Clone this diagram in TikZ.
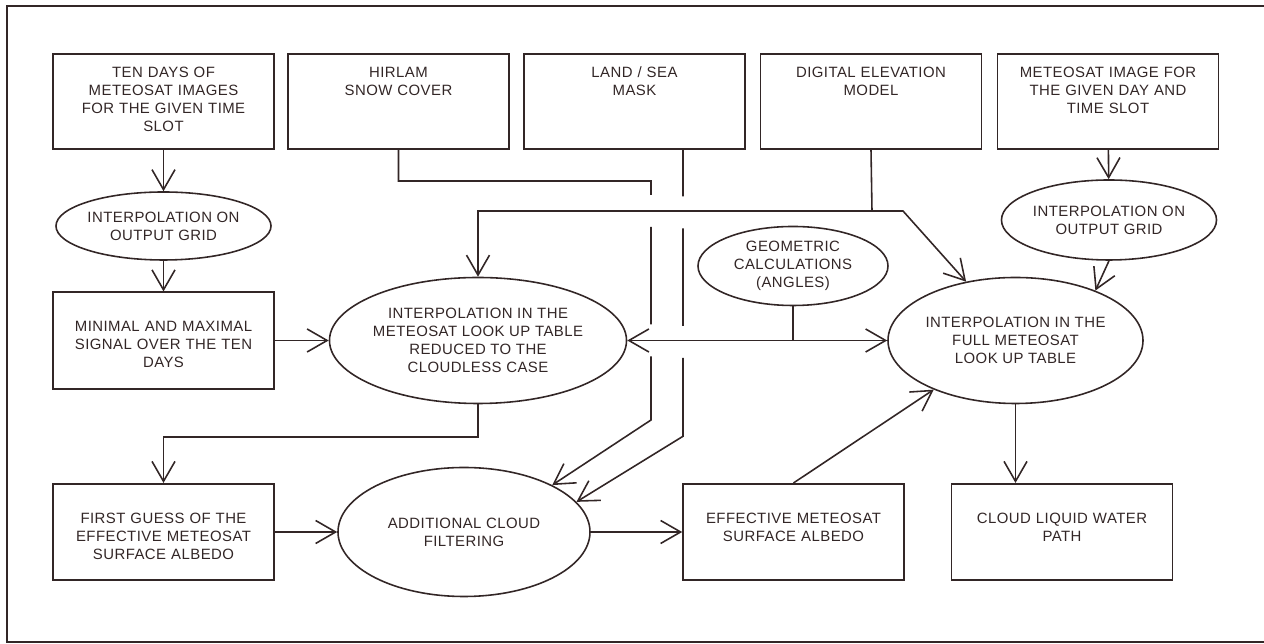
\documentclass[tikz,border=0pt]{standalone}
\usepackage{fontspec}
\setmainfont{Liberation Sans}[LetterSpace=3.0]
\usetikzlibrary{shapes.geometric, arrows.meta}
\definecolor{inkbrown}{RGB}{50, 38, 38}

\begin{document}
\begin{tikzpicture}[
  inbox/.style={draw=inkbrown, line width=0.9pt, minimum width=4.42cm, text width=4.2cm, align=center, inner xsep=0.1cm, inner ysep=0.255cm, text height=0.22cm, text depth=1.17cm, text=inkbrown, font=\fontsize{8.5}{10.25}\selectfont},
  outbox/.style={inbox, inner ysep=0.57cm, text depth=0.57cm},
  proc/.style={draw=inkbrown, line width=0.9pt, ellipse, align=center, inner sep=0pt, text=inkbrown, font=\fontsize{8.5}{10.25}\selectfont},
  wire/.style={draw=inkbrown, line width=0.9pt},
  link/.style={wire, -{Straight Barb[length=4mm, width=4.6mm]}}
]
  \useasboundingbox (0,0) rectangle (25.28,12.88);
  \draw[wire] (25.28,12.76) -| (0.14,0.04) -- (25.28,0.04);

  \node[inbox] (ten) at (3.27, 10.85) {TEN DAYS OF\\METEOSAT IMAGES\\FOR THE GIVEN TIME\\SLOT};
  \node[inbox] (snow) at (7.97, 10.85) {HIRLAM\\SNOW COVER};
  \node[inbox] (land) at (12.69, 10.85) {LAND / SEA\\MASK};
  \node[inbox] (dem) at (17.42, 10.85) {DIGITAL ELEVATION\\MODEL};
  \node[inbox] (today) at (22.16, 10.85) {METEOSAT IMAGE FOR\\THE GIVEN DAY AND\\TIME SLOT};

  \node[proc, minimum width=3.8cm, minimum height=1.36cm] (gridl) at (3.27, 8.36) {INTERPOLATION ON\\OUTPUT GRID};
  \node[proc, minimum width=3.84cm, minimum height=1.6cm] (gridr) at (22.18, 8.48) {INTERPOLATION ON\\OUTPUT GRID};
  \node[proc, minimum width=3.8cm, minimum height=1.58cm] (geom) at (15.86, 7.56) {GEOMETRIC\\CALCULATIONS\\(ANGLES)};

  \node[outbox] (minmax) at (3.27, 6.07) {MINIMAL AND MAXIMAL\\SIGNAL OVER THE TEN\\DAYS};
  \node[proc, minimum width=5.04cm, minimum height=2.52cm] (clear) at (9.56, 6.07) {INTERPOLATION IN THE\\METEOSAT LOOK UP TABLE\\REDUCED TO THE\\CLOUDLESS CASE};
  \node[proc, minimum width=5.1cm, minimum height=2.52cm] (full) at (20.31, 6.07) {INTERPOLATION IN THE\\FULL METEOSAT\\LOOK UP TABLE};

  \node[outbox] (guess) at (3.27, 2.24) {FIRST GUESS OF THE\\EFFECTIVE METEOSAT\\SURFACE ALBEDO};
  \node[proc, minimum width=5.04cm, minimum height=2.58cm] (filter) at (9.28, 2.24) {ADDITIONAL CLOUD\\FILTERING};
  \node[outbox] (albedo) at (15.87, 2.24) {EFFECTIVE METEOSAT\\SURFACE ALBEDO};
  \node[outbox] (lwp) at (21.24, 2.24) {CLOUD LIQUID WATER\\PATH};

  \coordinate (snowbend) at (13.02, 9.26);
  \coordinate (demjoin) at (17.44, 8.66);
  \coordinate (tee) at (geom.south |- clear.east);

  \draw[link] (ten) -- (gridl);
  \draw[link] (gridl) -- (minmax);
  \draw[link] (minmax) -- (clear);
  \draw[link] (clear.south) -- ++(0,-0.65) -| (guess.north);
  \draw[link] (guess) -- (filter);
  \draw[link] (filter) -- (albedo);
  \draw[link] (albedo.north) -- (full.211);

  \draw[wire] (dem.south) -- (demjoin);
  \draw[link] (demjoin) -| (clear.north);
  \draw[link] (demjoin) -- ++(0.62,0) -- (full.130);

  \draw[wire] (geom.south) -- (tee);
  \draw[link] (tee) -- (clear.east);
  \draw[link] (tee) -- (full.west);

  \draw[link] (today) -- (gridr);
  \draw[link] (gridr.south) -- (full.32);
  \draw[link] (full.south) -- (full.south |- lwp.north);

  \draw[link] (snow.south) |- (snowbend) -- ++(0,-0.28) ++(0,-0.64) -- ++(0,-1.95) ++(0,-0.64) -- ++(0,-1.27) -- (filter.28);
  \draw[link] ([xshift=0.97cm]land.south) -- ++(0,-0.93) ++(0,-0.64) -- ++(0,-1.95) ++(0,-0.64) -- ++(0,-1.57) -- (filter.15);
\end{tikzpicture}
\end{document}
